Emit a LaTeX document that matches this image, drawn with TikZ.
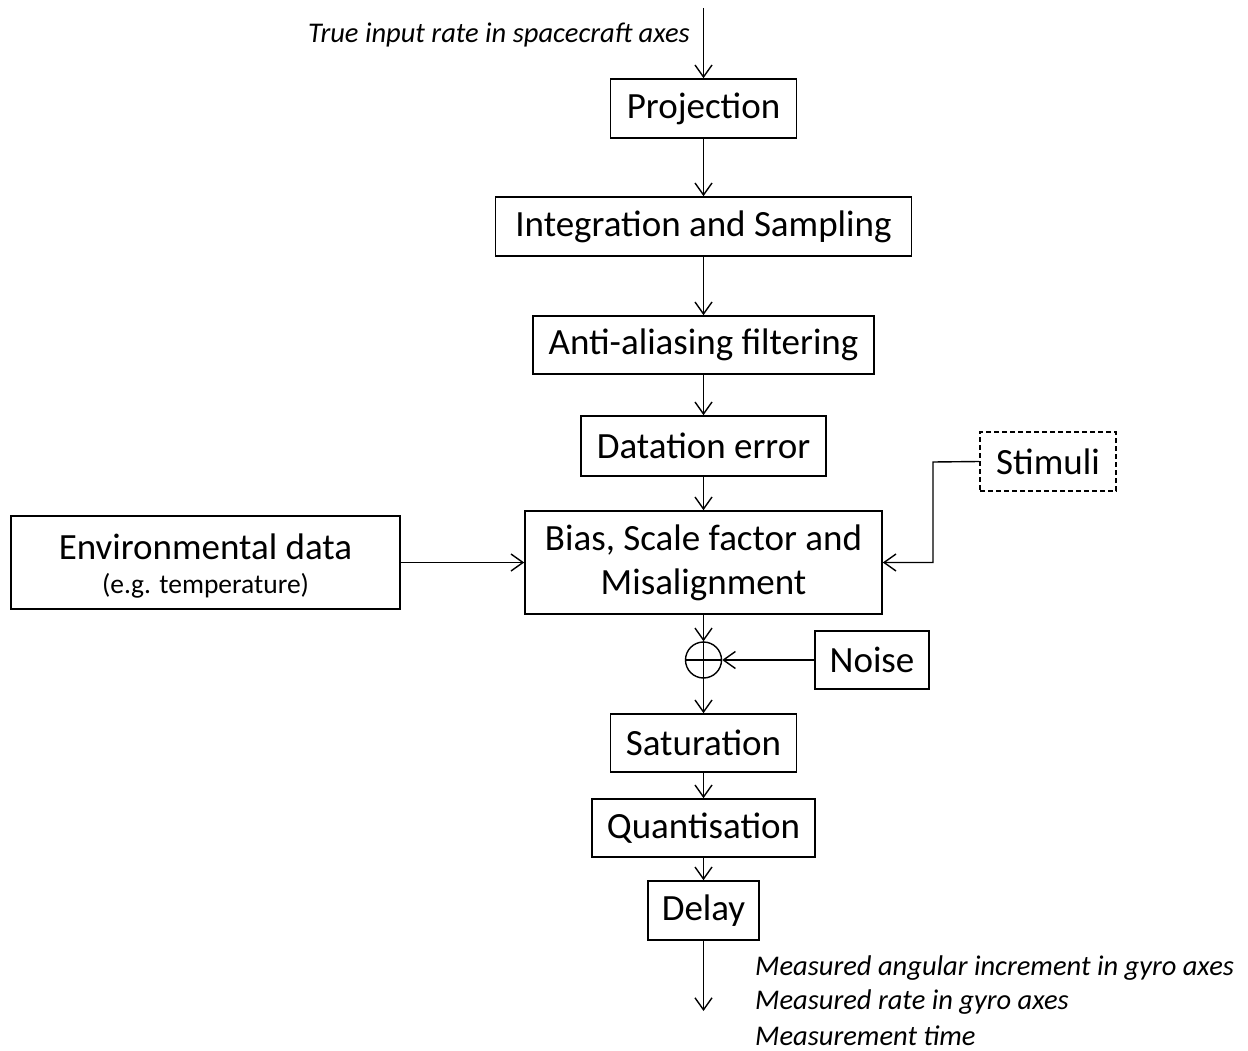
\documentclass[tikz,border=0pt]{standalone}
\usepackage{fontspec}
\setmainfont{Carlito}
\usetikzlibrary{arrows.meta,calc}
\begin{document}
\begin{tikzpicture}[x=1pt,y=-1pt,
  box/.style={draw,line width=1.6pt,rectangle,inner sep=0pt,align=center,font=\fontsize{37}{44}\selectfont},
  arr/.style={line width=1.4pt,-{Straight Barb[length=12pt,width=17pt,line width=1.4pt]}},
  ln/.style={line width=1.4pt},
  lab/.style={font=\fontsize{28.5}{34}\selectfont\itshape,inner sep=0pt}]
\useasboundingbox (0,0) rectangle (1248,1051);
\node[box,minimum width=186pt,minimum height=59pt] (proj) at (703.5,108.5) {Projection};
\node[box,minimum width=416pt,minimum height=59pt] (integ) at (703.5,226.5) {Integration and Sampling};
\node[box,minimum width=341pt,minimum height=58pt] (anti) at (703.5,345) {Anti-aliasing filtering};
\node[box,minimum width=245pt,minimum height=60pt] (dat) at (703.5,446) {Datation error};
\node[box,dashed,dash pattern=on 5pt off 3pt,minimum width=136pt,minimum height=59pt] (stim) at (1048,461.5) {Stimuli};
\node[box,minimum width=389pt,minimum height=93pt] (env) at (205.5,562.5) {};
\node[font=\fontsize{37}{44}\selectfont,inner sep=0pt] (envt) at (205.5,547) {Environmental data};
\node[font=\fontsize{27.5}{30}\selectfont,inner sep=0pt] (envs) at (205.5,586) {(e.g. temperature)};
\node[box,minimum width=357pt,minimum height=103pt] (bias) at (703.5,562.5) {Bias, Scale factor and\\Misalignment};
\node[draw,circle,line width=1.4pt,minimum size=36pt,inner sep=0pt] (sum) at (703.5,660) {};
\draw[ln] (sum.north) -- (sum.south);
\draw[ln] (sum.west) -- (sum.east);
\node[box,minimum width=114pt,minimum height=58pt] (noise) at (872,660) {Noise};
\node[box,minimum width=186pt,minimum height=58pt] (sat) at (703.5,743) {Saturation};
\node[box,minimum width=223pt,minimum height=58pt] (quant) at (703.5,828) {Quantisation};
\node[box,minimum width=111pt,minimum height=59pt] (delay) at (703.5,910.5) {Delay};
\coordinate (in) at (703.5,8);
\coordinate (out) at (703.5,1011);
\coordinate (sbend) at (933,462);
\node[lab,anchor=east] (inlab) at (690,35) {True input rate in spacecraft axes};
\node[lab,anchor=west] (o1) at (755,968) {Measured angular increment in gyro axes};
\node[lab,anchor=west] (o2) at (755,1002) {Measured rate in gyro axes};
\node[lab,anchor=west] (o3) at (755,1036) {Measurement time};
\draw[arr] (in) -- (proj.north);
\draw[arr] (proj.south) -- (integ.north);
\draw[arr] (integ.south) -- (anti.north);
\draw[arr] (anti.south) -- (dat.north);
\draw[arr] (dat.south) -- (bias.north);
\draw[arr] (env.east) -- (bias.west);
\draw[arr] (stim.west) -- (sbend) |- (bias.east);
\draw[arr] (bias.south) -- (sum.north);
\draw[arr] (noise.west) -- (sum.east);
\draw[arr] (sum.south) -- (sat.north);
\draw[arr] (sat.south) -- (quant.north);
\draw[arr] (quant.south) -- (delay.north);
\draw[arr] (delay.south) -- (out);
\end{tikzpicture}
\end{document}
